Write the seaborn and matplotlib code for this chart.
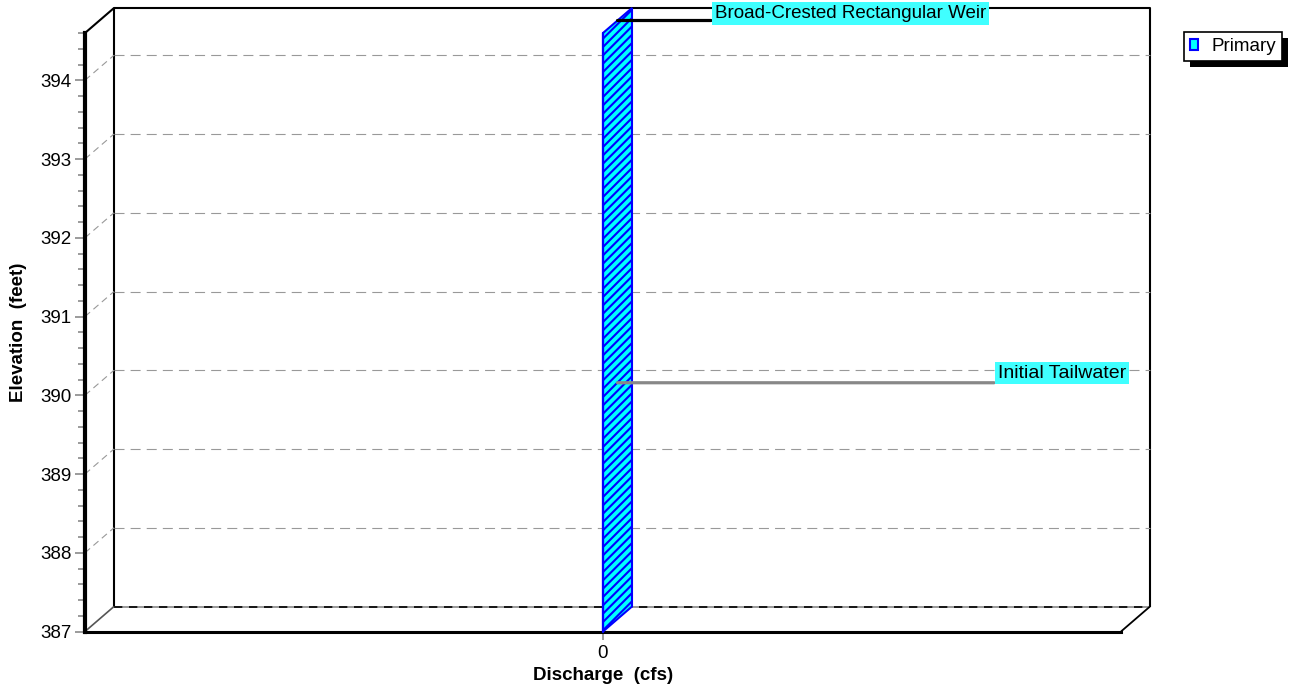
import matplotlib.pyplot as plt
import matplotlib.patheffects as pe
from matplotlib.patches import Patch
from matplotlib.ticker import MultipleLocator
import seaborn as sns

# Primary outlet rating curve: no discharge over the whole stage range
elevation = [387.0, 394.6]
discharge = [0.0, 0.0]

y_ticks = [387, 388, 389, 390, 391, 392, 393, 394]
x_ticks = [0]
x_tick_labels = ['0']

weir_label = 'Broad-Crested Rectangular Weir'
weir_elev = 394.6
tailwater_label = 'Initial Tailwater'
tailwater_elev = 390.0
legend_label = 'Primary'

W, H = 1294, 688
DX, DY = 29, 25  # depth of the pseudo 3D box, pixels
FS = 13.5


def main():
    sns.set_style('white')
    plt.rcParams['font.family'] = ['Liberation Sans', 'DejaVu Sans']
    plt.rcParams['text.color'] = 'black'
    plt.rcParams['axes.labelcolor'] = 'black'
    plt.rcParams['xtick.labelcolor'] = 'black'
    plt.rcParams['ytick.labelcolor'] = 'black'
    plt.rcParams['hatch.color'] = 'blue'
    plt.rcParams['hatch.linewidth'] = 1.5

    fig = plt.figure(figsize=(W / 100, H / 100), dpi=100)
    ax = fig.add_axes([85 / W, (H - 631.5) / H, (1121 - 85) / W, (631.5 - 33) / H])
    ax.set_xlim(-1, 1)
    ax.set_ylim(elevation[0], elevation[-1])
    x0, x1 = ax.get_xlim()
    y0, y1 = ax.get_ylim()

    # pixel depth offset expressed in data units
    p = ax.transData.transform([(0, y0), (1, y0), (0, y0 + 1)])
    dxd = DX / (p[1, 0] - p[0, 0])
    dyd = DY / (p[2, 1] - p[0, 1])

    kw = dict(clip_on=False, solid_capstyle='butt')

    # back wall
    ax.plot([x0 + dxd, x0 + dxd, x1 + dxd, x1 + dxd], [y0 + dyd, y1 + dyd, y1 + dyd, y0 + dyd],
            color='black', lw=1.5, zorder=1, **kw)
    # grid lines on the back wall and the left side
    for t in y_ticks[1:]:
        ax.plot([x0 + dxd, x1 + dxd], [t + dyd, t + dyd], color='#999999', lw=0.8,
                dashes=(9, 5.5), zorder=1, clip_on=False)
        ax.plot([x0, x0 + dxd], [t, t + dyd], color='#999999', lw=0.8,
                dashes=(6, 4), zorder=1, clip_on=False)
    # floor
    ax.plot([x0 + dxd, x1 + dxd], [y0 + dyd, y0 + dyd], color='#888888', lw=1.2, zorder=1, **kw)
    ax.plot([x0 + dxd, x1 + dxd], [y0 + dyd, y0 + dyd], color='black', lw=1.2,
            dashes=(5, 4), zorder=1, clip_on=False)
    ax.plot([x0, x0 + dxd], [y0, y0 + dyd], color='#555555', lw=1.2, zorder=1, **kw)
    ax.plot([x1, x1 + dxd], [y0, y0 + dyd], color='black', lw=1.3, zorder=1, **kw)
    ax.plot([x0, x0 + dxd], [y1, y1 + dyd], color='black', lw=1.5, zorder=1, **kw)

    # hatched ribbon of the rating curve
    rib_x = discharge + [d + dxd for d in discharge[::-1]]
    rib_y = elevation + [e + dyd for e in elevation[::-1]]
    ax.fill(rib_x, rib_y, facecolor='cyan', edgecolor='blue', hatch='////', lw=1.5,
            zorder=3, clip_on=False)
    sns.lineplot(x=discharge, y=elevation, orient='y', sort=False, color='blue', lw=1.6,
                 ax=ax, zorder=4, clip_on=False)

    # callouts: leader line plus boxed label
    callouts = [(weir_label, weir_elev, 97.5, 7, 'black', 13.5),
                (tailwater_label, tailwater_elev, 380.5, 9.5, '#888888', 14)]
    for label, elev, off, lift, col, size in callouts:
        xy = (dxd / 2, elev + dyd / 2)
        ax.annotate('', xy=xy, xycoords='data', xytext=(off - 4, 0),
                    textcoords='offset pixels', annotation_clip=False,
                    arrowprops=dict(arrowstyle='-', color=col, lw=2.3, shrinkA=0, shrinkB=0))
        ax.annotate(label, xy=xy, xycoords='data', xytext=(off, lift),
                    textcoords='offset pixels', ha='left', va='center', fontsize=size,
                    color='black', annotation_clip=False, zorder=6,
                    bbox=dict(boxstyle='square,pad=0.14', fc='#40FFFF', ec='none'))

    # axes styling
    for side in ['top', 'right']:
        ax.spines[side].set_visible(False)
    ax.spines['left'].set_linewidth(3)
    ax.spines['bottom'].set_linewidth(2.2)
    for side in ['left', 'bottom']:
        ax.spines[side].set_color('black')

    ax.set_yticks(y_ticks)
    ax.yaxis.set_minor_locator(MultipleLocator(0.2))
    ax.set_xticks(x_ticks, x_tick_labels)
    ax.tick_params(axis='y', which='major', left=True, length=7.5, width=1.1,
                   color='#808080', pad=2.4, labelsize=FS)
    ax.tick_params(axis='y', which='minor', left=True, length=5, width=1.1, color='#808080')
    ax.tick_params(axis='x', bottom=True, length=6, width=1.1, color='#808080', pad=4,
                   labelsize=FS)

    ax.set_xlabel('Discharge  (cfs)', fontsize=FS, fontweight='bold')
    ax.set_ylabel('Elevation  (feet)', fontsize=FS, fontweight='bold')
    ax.xaxis.set_label_coords(0.5, -0.0593)
    ax.yaxis.set_label_coords(-0.056, 0.5)

    handle = Patch(facecolor='cyan', edgecolor='blue', lw=1.5, label=legend_label)
    leg = ax.legend(handles=[handle], loc='upper left', bbox_to_anchor=(1184 / W, 1 - 32 / H),
                    bbox_transform=fig.transFigure, borderaxespad=0, fancybox=False,
                    framealpha=1, edgecolor='black', handlelength=0.45, handleheight=0.55,
                    handletextpad=0.7, borderpad=0.32, fontsize=FS)
    leg.get_frame().set_linewidth(1.2)
    leg.get_frame().set_path_effects([
        pe.SimplePatchShadow(offset=(4.3, -4.3), shadow_rgbFace='black', alpha=1),
        pe.Normal()])

    fig.savefig('out.png', dpi=100)


if __name__ == "__main__":
    main()
